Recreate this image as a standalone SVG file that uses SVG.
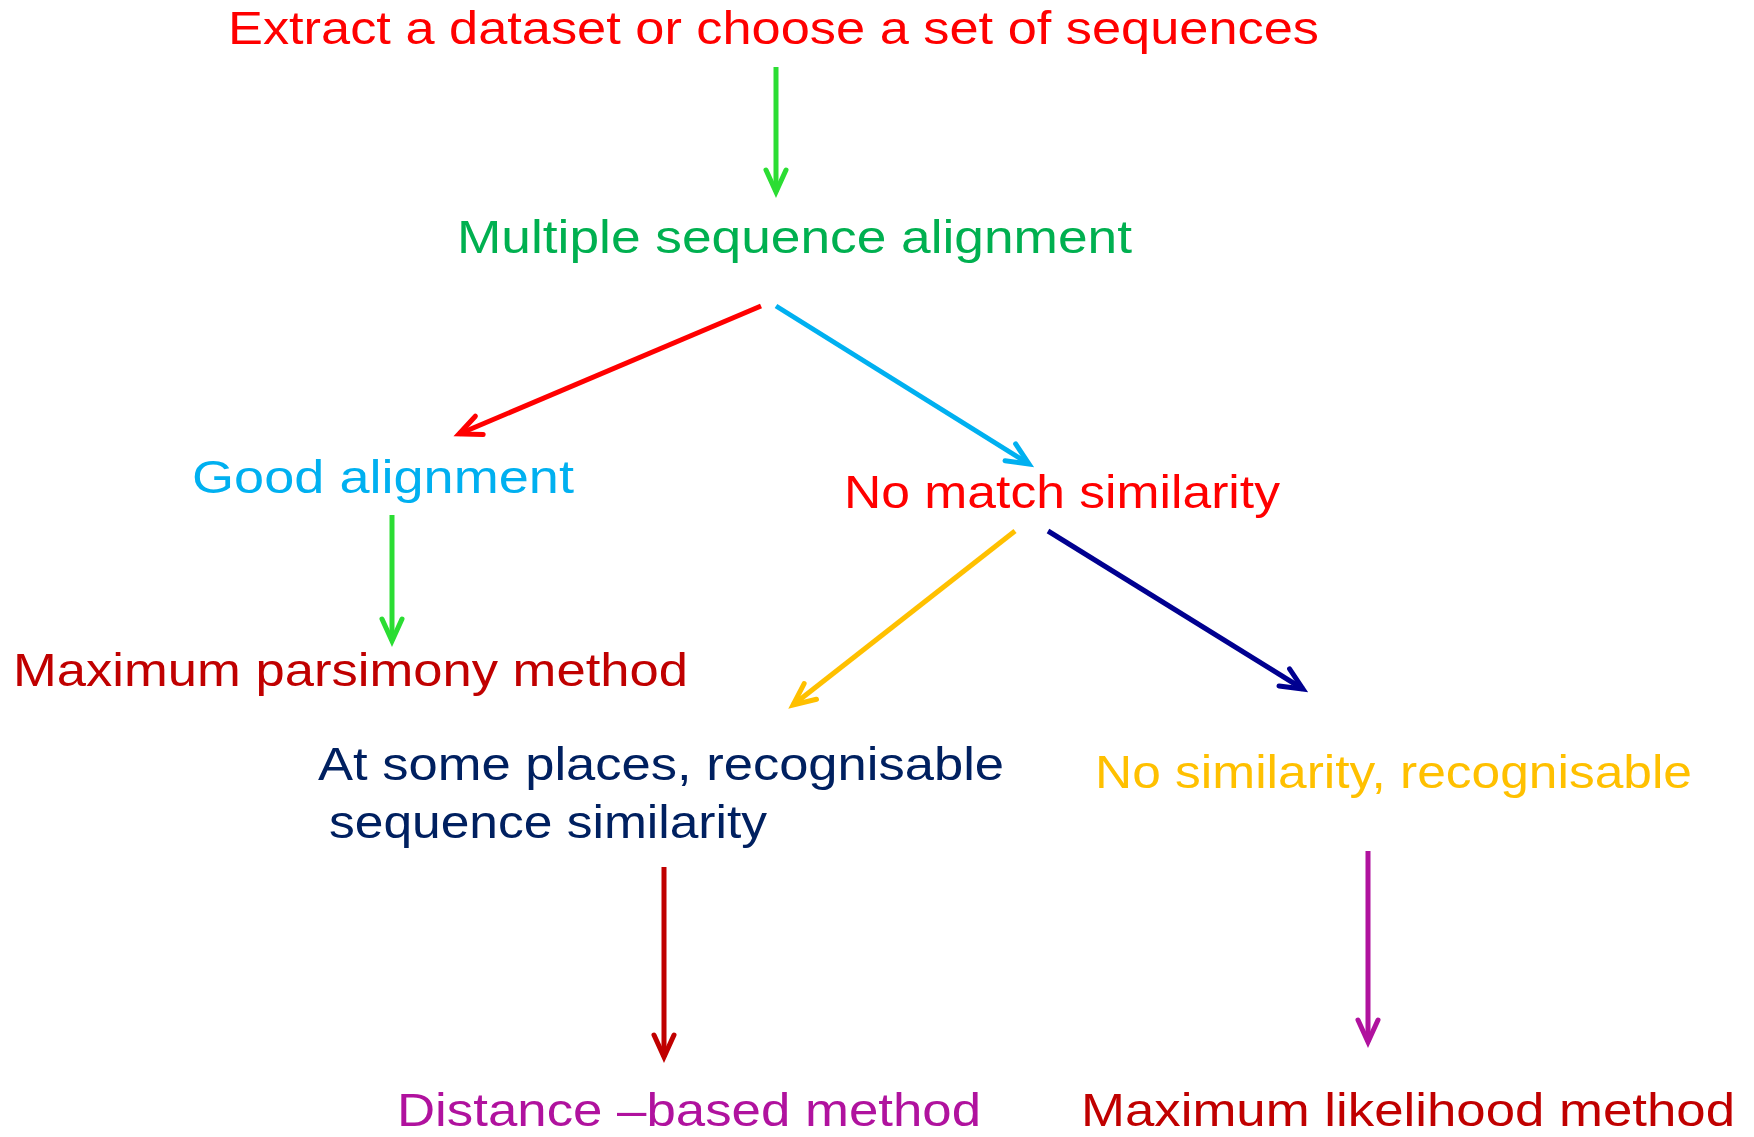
<svg xmlns="http://www.w3.org/2000/svg" width="1754" height="1137" viewBox="0 0 1754 1137">
  <style>
    .lbl { font-family: "Liberation Sans", Arial, sans-serif; font-size: 46px; }
    .edge { fill: none; stroke-width: 5; }
    .head { fill: none; stroke-width: 5; stroke-linejoin: miter; stroke-linecap: round; }
  </style>
  <defs>
    <marker id="m-green" markerUnits="userSpaceOnUse" orient="auto" overflow="visible" refX="0" refY="0">
      <path class="head" d="M-22,-10 L0,0 L-22,10" stroke="#2BDD33"/>
    </marker>
    <marker id="m-red" markerUnits="userSpaceOnUse" orient="auto" overflow="visible" refX="0" refY="0">
      <path class="head" d="M-22,-10 L0,0 L-22,10" stroke="#FF0000"/>
    </marker>
    <marker id="m-blue" markerUnits="userSpaceOnUse" orient="auto" overflow="visible" refX="0" refY="0">
      <path class="head" d="M-22,-10 L0,0 L-22,10" stroke="#00B0F0"/>
    </marker>
    <marker id="m-yellow" markerUnits="userSpaceOnUse" orient="auto" overflow="visible" refX="0" refY="0">
      <path class="head" d="M-22,-10 L0,0 L-22,10" stroke="#FFC000"/>
    </marker>
    <marker id="m-navy" markerUnits="userSpaceOnUse" orient="auto" overflow="visible" refX="0" refY="0">
      <path class="head" d="M-22,-10 L0,0 L-22,10" stroke="#000090"/>
    </marker>
    <marker id="m-darkred" markerUnits="userSpaceOnUse" orient="auto" overflow="visible" refX="0" refY="0">
      <path class="head" d="M-22,-10 L0,0 L-22,10" stroke="#C00000"/>
    </marker>
    <marker id="m-purple" markerUnits="userSpaceOnUse" orient="auto" overflow="visible" refX="0" refY="0">
      <path class="head" d="M-22,-10 L0,0 L-22,10" stroke="#B0129E"/>
    </marker>
  </defs>

  <rect width="1754" height="1137" fill="#FFFFFF"/>

  <g id="connectors">
    <line class="edge" x1="776" y1="67" x2="776" y2="192" stroke="#2BDD33" marker-end="url(#m-green)"/>
    <line class="edge" x1="761" y1="306" x2="459" y2="434" stroke="#FF0000" marker-end="url(#m-red)"/>
    <line class="edge" x1="776" y1="306" x2="1029" y2="464" stroke="#00B0F0" marker-end="url(#m-blue)"/>
    <line class="edge" x1="392" y1="515" x2="392" y2="641" stroke="#2BDD33" marker-end="url(#m-green)"/>
    <line class="edge" x1="1015" y1="531" x2="793" y2="705" stroke="#FFC000" marker-end="url(#m-yellow)"/>
    <line class="edge" x1="1048" y1="531" x2="1303" y2="689" stroke="#000090" marker-end="url(#m-navy)"/>
    <line class="edge" x1="664" y1="867" x2="664" y2="1057" stroke="#C00000" marker-end="url(#m-darkred)"/>
    <line class="edge" x1="1368" y1="851" x2="1368" y2="1042" stroke="#B0129E" marker-end="url(#m-purple)"/>
  </g>

  <g id="node-extract">
    <text class="lbl" x="228" y="44" fill="#FF0000" textLength="1091" lengthAdjust="spacingAndGlyphs">Extract a dataset or choose a set of sequences</text>
  </g>
  <g id="node-msa">
    <text class="lbl" x="457" y="253" fill="#00B050" textLength="675" lengthAdjust="spacingAndGlyphs">Multiple sequence alignment</text>
  </g>
  <g id="node-good">
    <text class="lbl" x="192" y="493" fill="#00B0F0" textLength="382" lengthAdjust="spacingAndGlyphs">Good alignment</text>
  </g>
  <g id="node-nomatch">
    <text class="lbl" x="844" y="508" fill="#FF0000" textLength="436" lengthAdjust="spacingAndGlyphs">No match similarity</text>
  </g>
  <g id="node-parsimony">
    <text class="lbl" x="13" y="686" fill="#C00000" textLength="675" lengthAdjust="spacingAndGlyphs">Maximum parsimony method</text>
  </g>
  <g id="node-someplaces">
    <text class="lbl" x="318" y="780" fill="#002060" textLength="686" lengthAdjust="spacingAndGlyphs">At some places, recognisable</text>
    <text class="lbl" x="329" y="838" fill="#002060" textLength="438" lengthAdjust="spacingAndGlyphs">sequence similarity</text>
  </g>
  <g id="node-nosimilarity">
    <text class="lbl" x="1095" y="788" fill="#FFC000" textLength="597" lengthAdjust="spacingAndGlyphs">No similarity, recognisable</text>
  </g>
  <g id="node-distance">
    <text class="lbl" x="397" y="1126" fill="#B0129E" textLength="584" lengthAdjust="spacingAndGlyphs">Distance –based method</text>
  </g>
  <g id="node-likelihood">
    <text class="lbl" x="1081" y="1126" fill="#C00000" textLength="654" lengthAdjust="spacingAndGlyphs">Maximum likelihood method</text>
  </g>
</svg>
